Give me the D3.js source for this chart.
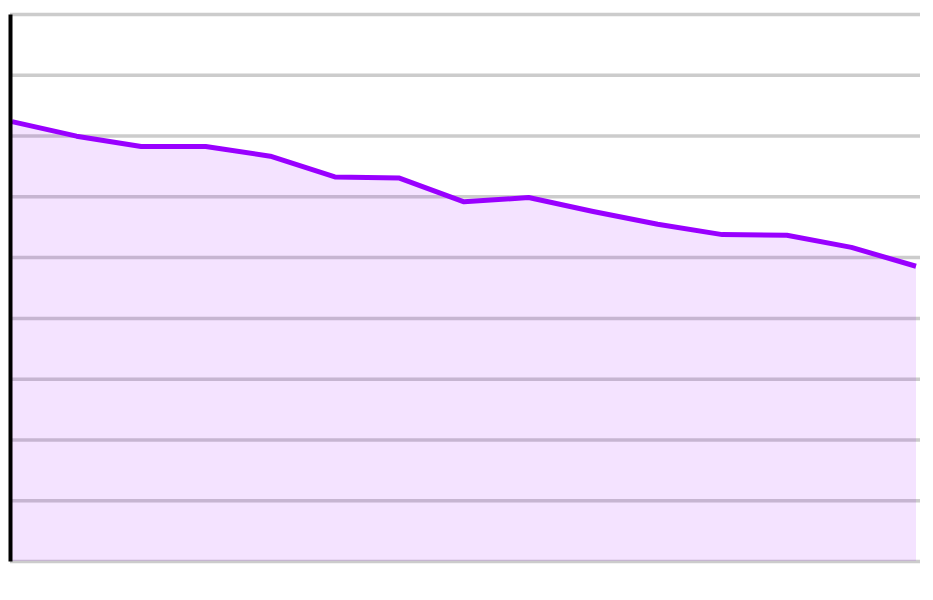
<!DOCTYPE html>
<html>
<head>
<meta charset="utf-8">
<script src="https://cdn.jsdelivr.net/npm/d3@7"></script>
<style>
  html, body { margin: 0; padding: 0; background: #fff; }
  svg { display: block; }
</style>
</head>
<body>
<svg id="chart" width="933" height="600"></svg>
<script>
const categories = [1, 2, 3, 4, 5, 6, 7, 8, 9, 10, 11, 12, 13, 14, 15];
const values = [72.3, 69.9, 68.2, 68.2, 66.6, 63.2, 63.0, 59.1, 59.8, 57.5, 55.4, 53.7, 53.6, 51.6, 48.5];
const tickValues = [0, 10, 20, 30, 40, 50, 60, 70, 80, 90];

const svg = d3.select("#chart");
const mLeft = 10, mRight = 916, mTop = 14, mBottom = 561;

const x = d3.scalePoint().domain(categories).range([mLeft + 2, mRight]);
const y = d3.scaleLinear().domain([0, 90]).range([mBottom, mTop]);

// grid lines
svg.append("g")
  .attr("transform", `translate(${mLeft},0)`)
  .call(d3.axisRight(y).tickValues(tickValues).tickSize(920 - mLeft).tickFormat(""))
  .call(g => g.select(".domain").remove())
  .call(g => g.selectAll(".tick line").attr("stroke", "#cccccc").attr("stroke-width", 3.5));

const data = categories.map((c, i) => ({ c, v: values[i] }));

// area
svg.append("path")
  .datum(data)
  .attr("fill", "rgba(153,0,255,0.11)")
  .attr("d", d3.area().x(d => x(d.c)).y0(y(0)).y1(d => y(d.v)));

// line
svg.append("path")
  .datum(data)
  .attr("fill", "none")
  .attr("stroke", "#9900ff")
  .attr("stroke-width", 5)
  .attr("stroke-linejoin", "round")
  .attr("d", d3.line().x(d => x(d.c)).y(d => y(d.v)));

// left axis line
svg.append("g")
  .attr("transform", `translate(${mLeft},0)`)
  .call(d3.axisLeft(y).tickValues([]).tickSizeOuter(0))
  .call(g => g.select(".domain").attr("stroke", "#000").attr("stroke-width", 4));
</script>
</body>
</html>
